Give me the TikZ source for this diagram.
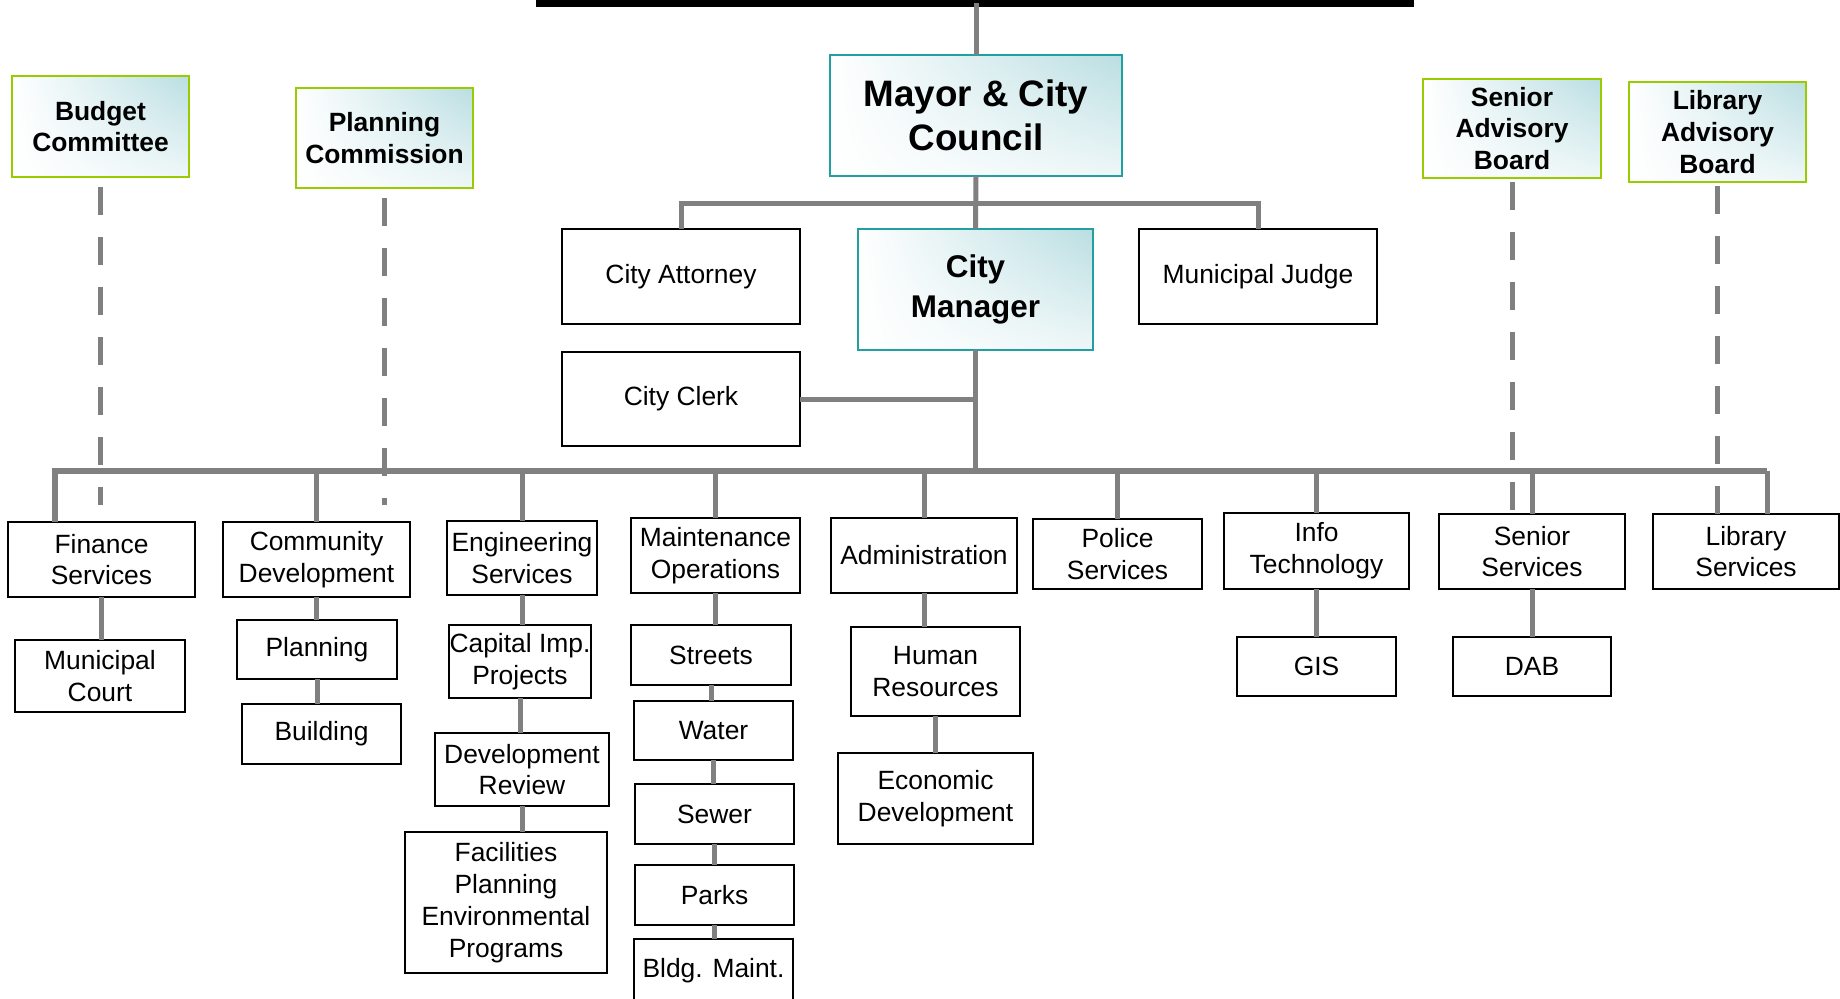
\documentclass[tikz,border=0pt]{standalone}
\usepackage{fontspec}
\setmainfont{Liberation Sans}
\usetikzlibrary{shadings}
\definecolor{conngrey}{RGB}{128,128,128}
\definecolor{tealborder}{RGB}{32,160,160}
\definecolor{advgreen}{RGB}{153,204,0}
\definecolor{tealfill}{RGB}{186,222,226}
\tikzset{
  box/.style={draw=black, line width=1pt, align=center, inner sep=0pt, outer sep=0pt,
    font=\fontsize{13.2}{15.9}\selectfont},
  area/.style args={#1/#2/#3/#4}{minimum width={(#3-#1)*0.5pt}, minimum height={(#4-#2)*0.5pt},
    at={({(#1+#3)/2},{(#2+#4)/2})}},
  shaded/.style={upper left=white, upper right=tealfill, lower left=white, lower right=tealfill!25},
  advbox/.style={box, shaded, draw=advgreen, line width=1.2pt, font=\bfseries\fontsize{13.2}{15.9}\selectfont},
  topbox/.style={box, shaded, draw=tealborder, line width=1.2pt},
  conn/.style={draw=conngrey, line width=2.5pt},
  mainbar/.style={draw=conngrey, line width=3pt},
  dashconn/.style={draw=conngrey, line width=2.5pt, dash pattern=on 14pt off 11pt},
}
\begin{document}
\begin{tikzpicture}[x=0.5pt,y=-0.5pt]
\useasboundingbox (0,0) rectangle (1840,998);

% top level
\coordinate (topL) at (536,3);
\coordinate (topR) at (1414,3);
\node[topbox, area=830/55/1122/176, font=\bfseries\fontsize{18.4}{22.3}\selectfont] (mayor) {Mayor \& City\\Council};
\node[topbox, area=858/229/1093/350, font=\bfseries\fontsize{15.7}{20}\selectfont] (cm) {City\\Manager};
\node[box, area=562/229/800/324] (atty) {City Attorney};
\node[box, area=1139/229/1377/324] (judge) {Municipal Judge};
\node[box, area=562/352/800/446] (clerk) {City Clerk};

% advisory boards
\node[advbox, area=12/76/189/177] (budget) {Budget\\Committee};
\node[advbox, area=296/88/473/188] (plancom) {Planning\\Commission};
\node[advbox, area=1423/79/1601/178] (senadv) {Senior\\Advisory\\Board};
\node[advbox, area=1629/82/1806/182] (libadv) {Library\\Advisory\\Board};

% departments
\node[box, area=8/522/195/597] (fin) {Finance\\Services};
\node[box, area=15/640/185/712] (court) {Municipal\\Court};
\node[box, area=223/522/410/597] (comdev) {Community\\Development};
\node[box, area=237/620/397/679] (planning) {Planning};
\node[box, area=242/704/401/764] (building) {Building};
\node[box, area=447/521/597/595] (eng) {Engineering\\Services};
\node[box, area=449/625/591/698] (capimp) {Capital Imp.\\Projects};
\node[box, area=435/733/609/806] (devrev) {Development\\Review};
\node[box, area=405/832/607/973] (fac) {Facilities\\Planning\\Environmental\\Programs};
\node[box, area=631/518/800/593] (maint) {Maintenance\\Operations};
\node[box, area=631/625/791/685] (streets) {Streets};
\node[box, area=634/701/793/760] (water) {Water};
\node[box, area=635/784/794/844] (sewer) {Sewer};
\node[box, area=635/865/794/925] (parks) {Parks};
\node[box, area=634/939/793/1003] (bldg) {Bldg. Maint.};
\node[box, area=831/518/1017/593] (admin) {Administration};
\node[box, area=851/627/1020/716] (hr) {Human\\Resources};
\node[box, area=838/753/1033/844] (econ) {Economic\\Development};
\node[box, area=1033/519/1202/589] (police) {Police\\Services};
\node[box, area=1224/513/1409/589] (info) {Info\\Technology};
\node[box, area=1237/637/1396/696] (gis) {GIS};
\node[box, area=1439/514/1625/589] (senior) {Senior\\Services};
\node[box, area=1453/637/1611/696] (dab) {DAB};
\node[box, area=1653/514/1839/589] (library) {Library\\Services};

% top black line
\draw[black, line width=3.5pt] (topL) -- (topR);
\draw[conn] (mayor.north) -- (mayor.north |- topL);
\draw[conn] (mayor.south) -- (cm.north);

% second level bar
\coordinate (b1) at (975,203);
\draw[conn] (atty.north) |- (b1) -| (judge.north);

% clerk and main bar
\coordinate (mbL) at (55,471);
\coordinate (mbR) at (1767,471);
\draw[conn] (clerk.east) -| (cm.south);
\draw[conn] (cm.south) -- (cm.south |- mbL);
\draw[mainbar] (mbR) -- (mbL) -- (mbL |- fin.north);
\draw[conn] (comdev.north |- mbL) -- (comdev.north);
\draw[conn] (eng.north |- mbL) -- (eng.north);
\draw[conn] (maint.north |- mbL) -- (maint.north);
\draw[conn] (admin.north |- mbL) -- (admin.north);
\draw[conn] (police.north |- mbL) -- (police.north);
\draw[conn] (info.north |- mbL) -- (info.north);
\draw[conn] (senior.north |- mbL) -- (senior.north);
\draw[conn] (mbR) -- (mbR |- library.north);

% sub connections
\draw[conn] (fin.south) -- (fin.south |- court.north);
\draw[conn] (comdev.south) -- (comdev.south |- planning.north);
\draw[conn] (planning.south) -- (planning.south |- building.north);
\draw[conn] (eng.south) -- (eng.south |- capimp.north);
\draw[conn] (capimp.south) -- (capimp.south |- devrev.north);
\draw[conn] (devrev.south) -- (devrev.south |- fac.north);
\draw[conn] (maint.south) -- (maint.south |- streets.north);
\draw[conn] (streets.south) -- (streets.south |- water.north);
\draw[conn] (water.south) -- (water.south |- sewer.north);
\draw[conn] (sewer.south) -- (sewer.south |- parks.north);
\draw[conn] (parks.south) -- (parks.south |- bldg.north);
\draw[conn] (admin.south) -- (admin.south |- hr.north);
\draw[conn] (hr.south) -- (hr.south |- econ.north);
\draw[conn] (info.south) -- (info.south |- gis.north);
\draw[conn] (senior.south) -- (senior.south |- dab.north);

% dashed advisory links
\draw[dashconn] ([yshift=-5pt]budget.south) -- (budget.south |- 0,505);
\draw[dashconn] ([yshift=-5pt]plancom.south) -- (plancom.south |- 0,505);
\draw[dashconn] ([yshift=-2pt]senadv.south) -- (senadv.south |- senior.north);
\draw[dashconn] ([yshift=-2pt]libadv.south) -- (libadv.south |- library.north);
\end{tikzpicture}
\end{document}
